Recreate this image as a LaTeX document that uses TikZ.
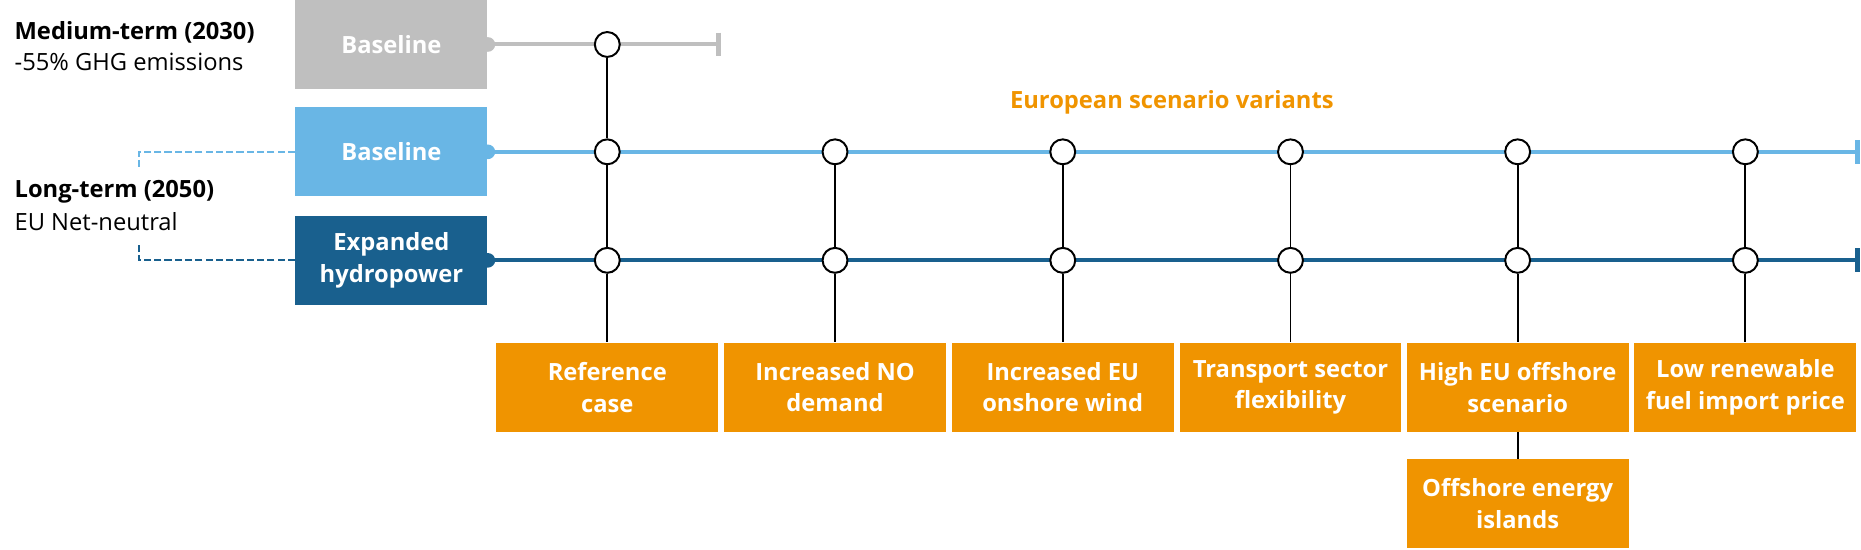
\documentclass[tikz,border=0pt]{standalone}
\usepackage{fontspec}
\setmainfont{Open Sans}
\usetikzlibrary{arrows.meta}
\definecolor{mediumgrey}{RGB}{191,191,191}
\definecolor{baseblue}{RGB}{105,182,229}
\definecolor{hydroblue}{RGB}{25,96,142}
\definecolor{variantorange}{RGB}{240,148,0}
\begin{document}
\begin{tikzpicture}[x=0.6pt,y=-0.6pt,
    casebox/.style={fill=#1,text=white,font=\bfseries\fontsize{12}{16}\selectfont,align=center,minimum width=97.2pt,minimum height=45pt,inner sep=0pt},
    variant/.style={fill=variantorange,text=white,font=\bfseries\fontsize{12}{16}\selectfont,align=center,minimum width=112.2pt,minimum height=45pt,inner sep=0pt},
    hub/.style={circle,draw=black,fill=white,line width=1pt,minimum size=12.6pt,inner sep=0pt},
    track/.style={draw=#1,line width=2pt,-{Bar[width=12pt,line width=2.5pt]}},
    lead/.style={draw=#1,dash pattern=on 3.6pt off 1.6pt,line width=0.9pt},
    note/.style={anchor=west,inner sep=0pt,font=\fontsize{12}{15}\selectfont}]
      \useasboundingbox (0,0) rectangle (1569,463);
      \path
        (12,27) node[note,font=\bfseries\fontsize{12}{15}\selectfont] (mt){Medium-term (2030)}
        (12,52) node[note] (mtsub){-55\% GHG emissions}
        (12,162) node[note,font=\bfseries\fontsize{12}{15}\selectfont] (lt){Long-term (2050)}
        (12,187) node[note] (ltsub){EU Net-neutral}
        (988,86) node[font=\bfseries\fontsize{12}{15}\selectfont,text=variantorange] (esv){European scenario variants}
        (330,37.5) node[casebox=mediumgrey] (bm){Baseline}
        (330,128) node[casebox=baseblue] (bl){Baseline}
        (330,219.5) node[casebox=hydroblue] (hl){Expanded\\hydropower}
        (512,326.5) node[variant] (r1){Reference\\case}
        (704,326.5) node[variant] (r2){Increased NO\\demand}
        (896,326.5) node[variant] (r3){Increased EU\\onshore wind}
        (1088,326.5) node[variant] (r4){Transport sector\\flexibility}
        (1279.5,326.5) node[variant] (r5){High EU offshore\\scenario}
        (1471.5,326.5) node[variant] (r6){Low renewable\\fuel import price}
        (1279.5,424.5) node[variant] (isl){Offshore energy\\islands};
      \coordinate (gend) at (608,37.5);
      \coordinate (bend) at (1568,128);
      \coordinate (hend) at (1568,219.5);
      \coordinate (blfoot) at (117,143);
      \coordinate (hlfoot) at (117,205);
      \draw[lead=baseblue] (bl.west) -| (blfoot);
      \draw[lead=hydroblue] (hl.west) -| (hlfoot);
      \fill[mediumgrey] (bm.east) circle[radius=3.7pt];
      \fill[baseblue] (bl.east) circle[radius=3.7pt];
      \fill[hydroblue] (hl.east) circle[radius=3.7pt];
      \draw[track=mediumgrey] (bm.east) -- (gend);
      \draw[track=baseblue] (bl.east) -- (bend);
      \draw[track=hydroblue] (hl.east) -- (hend);
      \path
        (512,37.5) node[hub] (c1m){}
        (512,128) node[hub] (c1b){}
        (704,128) node[hub] (c2b){}
        (896,128) node[hub] (c3b){}
        (1088,128) node[hub] (c4b){}
        (1279.5,128) node[hub] (c5b){}
        (1471.5,128) node[hub] (c6b){}
        (512,219.5) node[hub] (c1e){}
        (704,219.5) node[hub] (c2e){}
        (896,219.5) node[hub] (c3e){}
        (1088,219.5) node[hub] (c4e){}
        (1279.5,219.5) node[hub] (c5e){}
        (1471.5,219.5) node[hub] (c6e){};
      \begin{scope}[line width=1pt]
        \draw (c1m) to (c1b);
        \draw (c1b) to (c1e);
        \draw (c2b) to (c2e);
        \draw (c3b) to (c3e);
        \draw (c4b) to (c4e);
        \draw (c5b) to (c5e);
        \draw (c6b) to (c6e);
        \draw (c1e) to (r1);
        \draw (c2e) to (r2);
        \draw (c3e) to (r3);
        \draw (c4e) to (r4);
        \draw (c5e) to (r5);
        \draw (c6e) to (r6);
        \draw (r5) to (isl);
      \end{scope}
    \end{tikzpicture}
\end{document}
